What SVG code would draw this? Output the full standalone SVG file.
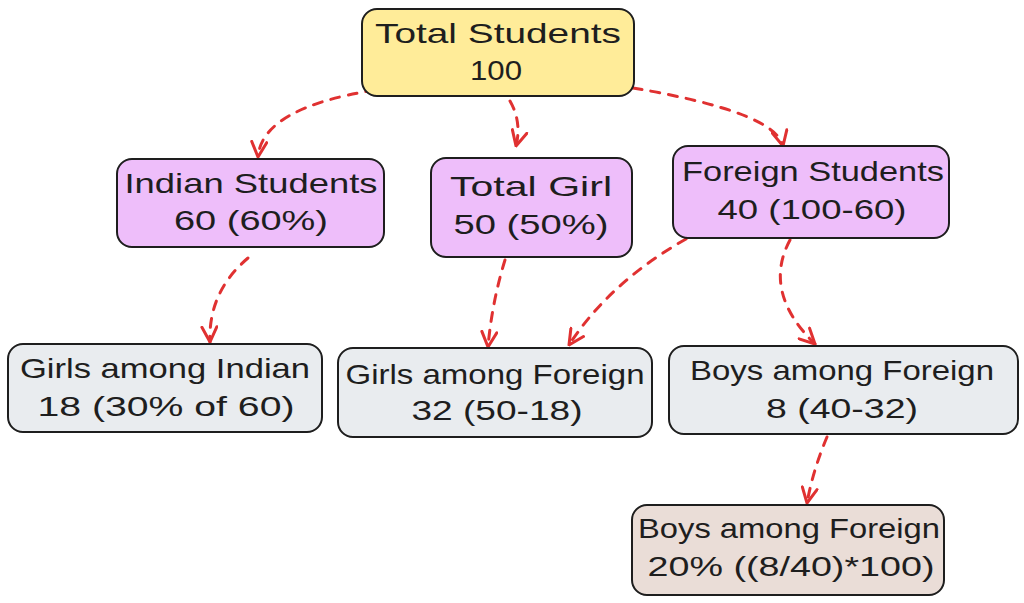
<svg xmlns="http://www.w3.org/2000/svg" width="1024" height="603" viewBox="0 0 1024 603">
<style>
.box{stroke:#1e1e1e;stroke-width:2;}
.y{fill:#ffec99;}
.p{fill:#eebefa;}
.g{fill:#e9ecef;}
.b{fill:#eaddd7;}
text{font-family:"Liberation Sans","DejaVu Sans",sans-serif;font-size:28px;fill:#1e1e1e;text-anchor:middle;dominant-baseline:central;}
.c path{fill:none;stroke:#e03131;stroke-width:3;stroke-dasharray:9 9;stroke-linecap:round;marker-end:url(#ah);}
</style>
<defs>
<marker id="ah" viewBox="0 0 12 12" refX="11" refY="6" markerWidth="6" markerHeight="6" orient="auto" markerUnits="strokeWidth">
<path d="M1,1 L11,6 L1,11" fill="none" stroke="#e03131" stroke-width="2" stroke-linecap="round" stroke-linejoin="round"/>
</marker>
</defs>
<rect width="1024" height="603" fill="#ffffff"/>
<g class="c" id="connectors">
<path d="M375,90 Q262,108 258,157"/>
<path d="M510,101 Q522,122 516,146"/>
<path d="M633,88 Q775,112 783,146"/>
<path d="M248,258 Q208,292 210,342"/>
<path d="M505,260 Q492,302 488,347"/>
<path d="M686,239 Q610,282 569,345"/>
<path d="M790,240 Q762,292 815,344"/>
<path d="M827,437 Q813,470 807,503"/>
</g>
<g id="total">
<rect class="box y" x="362" y="9" width="272" height="87" rx="15"/>
<text x="498" y="33" textLength="246" lengthAdjust="spacingAndGlyphs">Total Students</text>
<text x="496" y="70" textLength="52" lengthAdjust="spacingAndGlyphs">100</text>
</g>
<g id="indian">
<rect class="box p" x="117" y="159" width="267" height="88" rx="15"/>
<text x="251" y="183" textLength="253" lengthAdjust="spacingAndGlyphs">Indian Students</text>
<text x="251" y="220" textLength="154" lengthAdjust="spacingAndGlyphs">60 (60%)</text>
</g>
<g id="girl">
<rect class="box p" x="431" y="158" width="201" height="99" rx="15"/>
<text x="531" y="186" textLength="162" lengthAdjust="spacingAndGlyphs">Total Girl</text>
<text x="531" y="224" textLength="155" lengthAdjust="spacingAndGlyphs">50 (50%)</text>
</g>
<g id="foreign">
<rect class="box p" x="673" y="146" width="276" height="92" rx="15"/>
<text x="813" y="171" textLength="262" lengthAdjust="spacingAndGlyphs">Foreign Students</text>
<text x="812" y="209" textLength="189" lengthAdjust="spacingAndGlyphs">40 (100-60)</text>
</g>
<g id="girlsIndian">
<rect class="box g" x="8" y="344" width="314" height="88" rx="15"/>
<text x="165" y="368" textLength="290" lengthAdjust="spacingAndGlyphs">Girls among Indian</text>
<text x="166" y="406" textLength="257" lengthAdjust="spacingAndGlyphs">18 (30% of 60)</text>
</g>
<g id="girlsForeign">
<rect class="box g" x="338" y="348" width="314" height="89" rx="15"/>
<text x="495" y="374" textLength="299" lengthAdjust="spacingAndGlyphs">Girls among Foreign</text>
<text x="497" y="410" textLength="171" lengthAdjust="spacingAndGlyphs">32 (50-18)</text>
</g>
<g id="boysForeign">
<rect class="box g" x="669" y="346" width="349" height="88" rx="15"/>
<text x="842" y="370" textLength="304" lengthAdjust="spacingAndGlyphs">Boys among Foreign</text>
<text x="842" y="408" textLength="152" lengthAdjust="spacingAndGlyphs">8 (40-32)</text>
</g>
<g id="boysPercent">
<rect class="box b" x="632" y="505" width="312" height="90" rx="15"/>
<text x="789" y="528" textLength="302" lengthAdjust="spacingAndGlyphs">Boys among Foreign</text>
<text x="791" y="566" textLength="287" lengthAdjust="spacingAndGlyphs">20% ((8/40)*100)</text>
</g>
</svg>
